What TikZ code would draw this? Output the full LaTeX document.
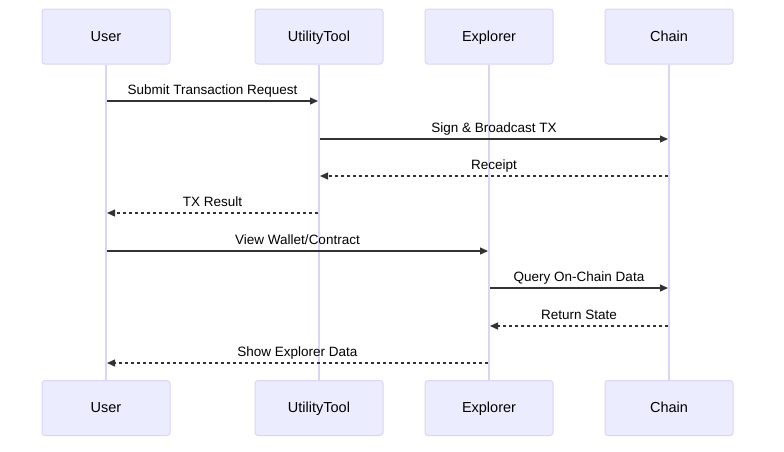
\documentclass[tikz,border=0pt]{standalone}
\usepackage{fontspec}
\setmainfont{Liberation Sans}
\usetikzlibrary{arrows.meta}

\definecolor{actorfill}{HTML}{ECECFF}
\definecolor{actorline}{HTML}{DCD3F5}
\definecolor{msgline}{HTML}{333333}

\tikzset{
  actor/.style={draw=actorline, fill=actorfill, line width=1pt, rounded corners=3pt,
    minimum width=128pt, minimum height=55pt, text height=11pt, text depth=2pt,
    font=\fontsize{14.5}{16}\selectfont},
  lifeline/.style={draw=actorline, line width=1.6pt},
  msg/.style={draw=msgline, line width=1.2pt, -{Triangle[length=8pt,width=7pt]}},
  reply/.style={msg, dash pattern=on 3pt off 3pt},
  msglabel/.style={font=\fontsize{13.5}{15}\selectfont, text=black, inner sep=0pt,
    text height=10pt, text depth=2.5pt}
}

\begin{document}
\begin{tikzpicture}[x=1pt, y=-1pt]

\useasboundingbox (0,0) rectangle (784,451);

% Actors (top and bottom)
\node[actor] (userT) at (106,36.5) {User};
\node[actor] (toolT) at (319,36.5) {UtilityTool};
\node[actor] (explT) at (489,36.5) {Explorer};
\node[actor] (chainT) at (669,36.5) {Chain};

\node[actor] (userB) at (106,408) {User};
\node[actor] (toolB) at (319,408) {UtilityTool};
\node[actor] (explB) at (489,408) {Explorer};
\node[actor] (chainB) at (669,408) {Chain};

% Lifelines
\draw[lifeline] (userT) -- (userB);
\draw[lifeline] (toolT) -- (toolB);
\draw[lifeline] (explT) -- (explB);
\draw[lifeline] (chainT) -- (chainB);

% Message ends on the lifelines
\coordinate (m1a) at (107,101);  \coordinate (m1b) at (318,101);
\coordinate (m2a) at (320,139);  \coordinate (m2b) at (668,139);
\coordinate (m3a) at (668,176);  \coordinate (m3b) at (320,176);
\coordinate (m4a) at (318,213);  \coordinate (m4b) at (107,213);
\coordinate (m5a) at (107,251);  \coordinate (m5b) at (488,251);
\coordinate (m6a) at (490,288);  \coordinate (m6b) at (668,288);
\coordinate (m7a) at (668,326);  \coordinate (m7b) at (490,326);
\coordinate (m8a) at (488,363);  \coordinate (m8b) at (107,363);

% Messages
\draw[msg] (m1a) -- node[msglabel, above=3.5pt] {Submit Transaction Request} (m1b);
\draw[msg] (m2a) -- node[msglabel, above=3.5pt] {Sign \& Broadcast TX} (m2b);
\draw[reply] (m3a) -- node[msglabel, above=3.5pt] {Receipt} (m3b);
\draw[reply] (m4a) -- node[msglabel, above=3.5pt] {TX Result} (m4b);
\draw[msg] (m5a) -- node[msglabel, above=3.5pt] {View Wallet/Contract} (m5b);
\draw[msg] (m6a) -- node[msglabel, above=3.5pt] {Query On-Chain Data} (m6b);
\draw[reply] (m7a) -- node[msglabel, above=3.5pt] {Return State} (m7b);
\draw[reply] (m8a) -- node[msglabel, above=3.5pt] {Show Explorer Data} (m8b);

\end{tikzpicture}
\end{document}
